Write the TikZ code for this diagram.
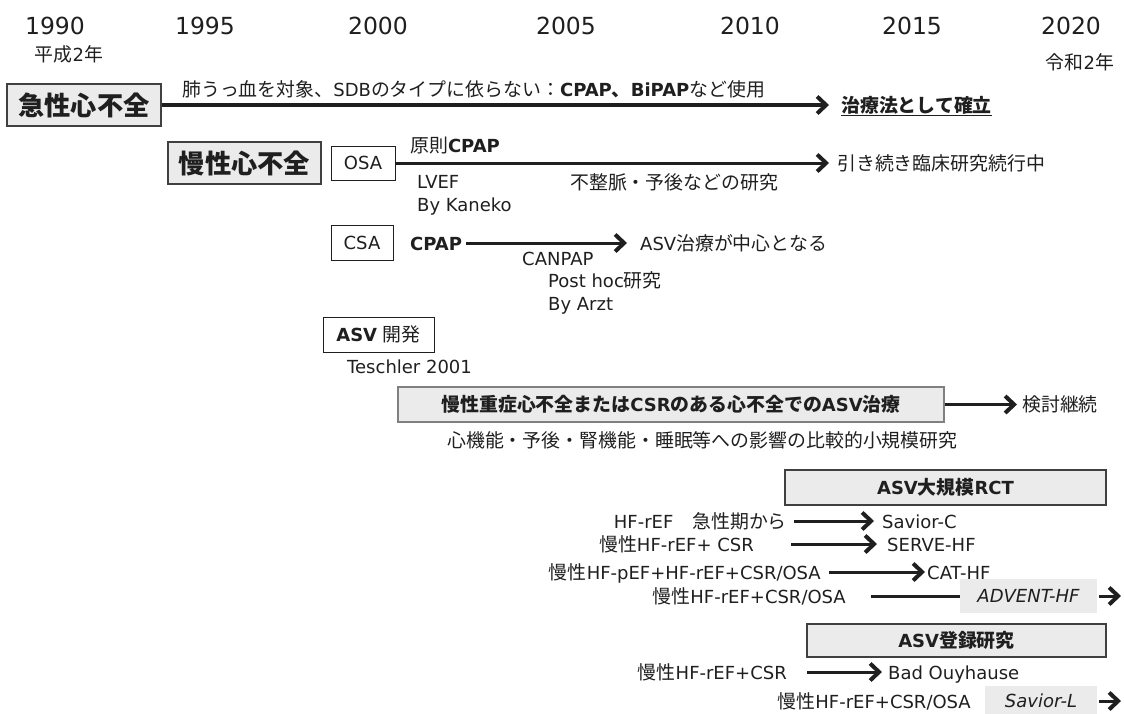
\documentclass[tikz,border=0pt]{standalone}
\usepackage{fontspec}
\setmainfont{DejaVu Sans}
\newfontfamily\jpfont[Scale=1.05]{Noto Sans CJK JP}
\newcommand{\jtext}[1]{{\jpfont #1}}
\newcommand{\bodyfont}{\fontsize{18}{21}\selectfont}
\usetikzlibrary{arrows.meta}
\definecolor{ink}{HTML}{1F1F1F}
\definecolor{boxgray}{HTML}{EBEBEB}
\definecolor{edgegray}{HTML}{404040}

\tikzset{
  txt/.style={inner sep=0pt, text height=16pt, text depth=2pt, text=ink},
  hfbox/.style={draw=edgegray, line width=1.5pt, fill=boxgray, text=ink,
    font=\fontsize{25}{28}\selectfont\bfseries},
  kindbox/.style={draw=ink, line width=1pt, fill=white, text=ink, inner sep=0pt},
  headbox/.style={draw=edgegray, line width=1.3pt, fill=boxgray, text=ink,
    inner sep=0pt, font=\bodyfont\bfseries},
  trialbox/.style={fill=boxgray, inner sep=0pt, text=ink, font=\bodyfont\itshape},
  arr/.style={ink, line width=3pt, -{Straight Barb[length=9pt,width=17pt,line width=4pt]}},
  bar/.style={ink, line width=3pt},
}

\begin{document}
\begin{tikzpicture}[x=1pt, y=-1pt, font=\bodyfont]
  \useasboundingbox (0,0) rectangle (1124,713);

  % Years
  \foreach \yr/\xx in {1990/55, 1995/205, 2000/378, 2005/566, 2010/750, 2015/912, 2020/1071}
    \node[text=ink, font=\fontsize{23.5}{26}\selectfont] (y\yr) at (\xx,26) {\yr};
  \node[txt] (heisei) at (69,54) {\jtext{平成}2\jtext{年}};
  \node[txt] (reiwa) at (1080,62) {\jtext{令和}2\jtext{年}};

  % Acute heart failure
  \node[hfbox, minimum width=154pt, minimum height=42pt] (acute) at (84,105) {\jtext{急性心不全}};
  \node[txt, anchor=west] (acutenote) at (182,89)
    {\jtext{肺うっ血を対象、}SDB\jtext{のタイプに依らない：}\textbf{CPAP\jtext{、}BiPAP}\jtext{など使用}};
  \node[txt, anchor=west] (estab) at (841,105) {\textbf{\underline{\jtext{治療法として確立}}}};
  \draw[arr, line width=3.6pt, shorten >=12pt] (acute.east) -- (estab.west);

  % Chronic heart failure, OSA
  \node[hfbox, minimum width=153pt, minimum height=42pt] (chronic) at (244.5,163) {\jtext{慢性心不全}};
  \node[kindbox, minimum width=64pt, minimum height=34pt] (osa) at (363,163) {OSA};
  \node[txt, anchor=west] (osacpap) at (410,145) {\jtext{原則}\textbf{CPAP}};
  \node[txt, anchor=west] (lvef) at (417,181) {LVEF};
  \node[txt, anchor=west] (kaneko) at (417,204) {By Kaneko};
  \node[txt, anchor=west] (arrhy) at (570,182) {\jtext{不整脈・予後などの研究}};
  \node[txt, anchor=west] (ongoing) at (837,163) {\jtext{引き続き臨床研究続行中}};
  \draw[arr, shorten >=8pt] (osa.east) -- (ongoing.west);

  % CSA
  \node[kindbox, minimum width=62pt, minimum height=35pt] (csa) at (362,243) {CSA};
  \node[txt, anchor=west] (csacpap) at (410,243) {\textbf{CPAP}};
  \node[txt, anchor=west] (asvmain) at (640,243) {ASV\jtext{治療が中心となる}};
  \draw[arr, shorten <=4pt, shorten >=13pt] (csacpap.east) -- (asvmain.west);
  \node[txt, anchor=west] (canpap) at (522,258) {CANPAP};
  \node[txt, anchor=west] (posthoc) at (548,280) {Post hoc\jtext{研究}};
  \node[txt, anchor=west] (arzt) at (548,303) {By Arzt};

  % ASV development
  \node[kindbox, minimum width=111pt, minimum height=35pt] (asvdev) at (378.5,334.5) {\textbf{ASV} \jtext{開発}};
  \node[txt, anchor=west] (teschler) at (347,366) {Teschler 2001};

  % Small studies
  \node[headbox, draw=gray, minimum width=546pt, minimum height=35pt] (smallbox) at (671,404.5)
    {\jtext{慢性重症心不全または}CSR\jtext{のある心不全での}ASV\jtext{治療}};
  \node[txt, anchor=west] (contin) at (1022,404.5) {\jtext{検討継続}};
  \draw[arr, shorten >=5pt] (smallbox.east) -- (contin.west);
  \node[txt, anchor=west] (smallnote) at (447,440) {\jtext{心機能・予後・腎機能・睡眠等への影響の比較的小規模研究}};

  % Large RCTs
  \node[headbox, minimum width=321pt, minimum height=35pt] (rct) at (945.5,487.5) {ASV\jtext{大規模}RCT};
  \node[txt, anchor=east] (r1src) at (787,521) {HF-rEF\jtext{　急性期から}};
  \node[txt, anchor=west] (r1dst) at (882,521) {Savior-C};
  \draw[arr, shorten <=7pt, shorten >=8pt] (r1src.east) -- (r1dst.west);
  \node[txt, anchor=east] (r2src) at (754,544) {\jtext{慢性}HF-rEF+ CSR};
  \node[txt, anchor=west] (r2dst) at (887,544) {SERVE-HF};
  \draw[arr, shorten <=37pt, shorten >=10pt] (r2src.east) -- (r2dst.west);
  \node[txt, anchor=east] (r3src) at (821,572) {\jtext{慢性}HF-pEF+HF-rEF+CSR/OSA};
  \node[txt, anchor=west] (r3dst) at (927,572) {CAT-HF};
  \draw[arr, shorten <=8pt, shorten >=2pt] (r3src.east) -- (r3dst.west);
  \node[txt, anchor=east] (r4src) at (846,596) {\jtext{慢性}HF-rEF+CSR/OSA};
  \node[trialbox, minimum width=137pt, minimum height=34pt] (advent) at (1028.5,596) {ADVENT-HF};
  \coordinate (r4end) at (1121,596);
  \draw[bar, shorten <=25pt] (r4src.east) -- (advent.west);
  \draw[arr, shorten <=2pt] (advent.east) -- (r4end);

  % Registries
  \node[headbox, minimum width=299pt, minimum height=33pt] (regist) at (956.5,640.5) {ASV\jtext{登録研究}};
  \node[txt, anchor=east] (g1src) at (787,672) {\jtext{慢性}HF-rEF+CSR};
  \node[txt, anchor=west] (g1dst) at (888,672) {Bad Ouyhause};
  \draw[arr, shorten <=20pt, shorten >=6pt] (g1src.east) -- (g1dst.west);
  \node[txt, anchor=east] (g2src) at (971,701) {\jtext{慢性}HF-rEF+CSR/OSA};
  \node[trialbox, minimum width=112pt, minimum height=30pt] (saviorl) at (1041,701) {Savior-L};
  \coordinate (g2end) at (1121,701);
  \draw[arr, shorten <=2pt] (saviorl.east) -- (g2end);
\end{tikzpicture}
\end{document}
